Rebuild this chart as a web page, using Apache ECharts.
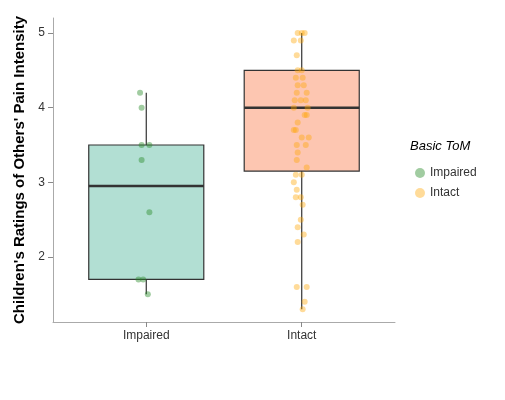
<!DOCTYPE html><html><head><meta charset="utf-8"><script src="https://cdn.jsdelivr.net/npm/echarts@6/dist/echarts.min.js"></script></head><body style="margin:0"><div id="c" style="width:505px;height:400px"></div><script>
const categories=['Impaired','Intact'];
const impairedPts=[[0.96,4.2],[0.97,4.0],[0.97,3.5],[1.02,3.5],[0.97,3.3],[1.02,2.6],[0.95,1.7],[0.98,1.7],[1.01,1.5]];
const intactPx=[[298,5],[302,5],[305,5],[294,4.9],[301,4.9],[297,4.7],[298,4.5],[302,4.5],[296,4.4],[303,4.4],[298,4.3],[304,4.3],[297,4.2],[307,4.2],[295,4.1],[301,4.1],[306,4.1],[294,4.0],[308,4.0],[305,3.9],[307,3.9],[298,3.8],[294,3.7],[296,3.7],[302,3.6],[309,3.6],[297,3.5],[306,3.5],[298,3.4],[297,3.3],[307,3.2],[296,3.1],[302,3.1],[294,3.0],[297,2.9],[296,2.8],[301,2.8],[303,2.7],[301,2.5],[298,2.4],[304,2.3],[298,2.2],[297,1.6],[307,1.6],[305,1.4],[303,1.3]];
const intactPts=intactPx.map(p=>[+(2+(p[0]-302)/156).toFixed(3),p[1]]);
// [pos, lowWhisker, q1, median, q3, highWhisker]
const boxes=[[1,1.5,1.7,2.95,3.5,4.2],[2,1.3,3.15,4.0,4.5,5.0]];
const boxFill=['#b2dfd3','#fdc6b1'];
const yTicks=[2,3,4,5];
const ch=echarts.init(document.getElementById('c'));
ch.setOption({
 animation:false,
 grid:{left:53,right:110,top:18,bottom:78},
 xAxis:{type:'value',min:0.4,max:2.6,splitLine:{show:false},
  axisLine:{lineStyle:{color:'#aaa'}},axisTick:{customValues:[1,2],lineStyle:{color:'#888'}},
  axisLabel:{customValues:[1,2],formatter:v=>categories[Math.round(v)-1],color:'#333',fontSize:12,fontFamily:'Liberation Sans'}},
 yAxis:{type:'value',min:1.13,max:5.2,splitLine:{show:false},
  axisLine:{show:true,lineStyle:{color:'#aaa'}},axisTick:{show:true,customValues:yTicks,lineStyle:{color:'#888'}},
  axisLabel:{customValues:yTicks,color:'#333',fontSize:12,fontFamily:'Liberation Sans'},
  name:"Children's Ratings of Others' Pain Intensity",nameLocation:'middle',nameGap:24,
  nameTextStyle:{fontWeight:'bold',fontSize:15,color:'#000',fontFamily:'Liberation Sans'}},
 legend:{orient:'vertical',left:410,top:162,itemWidth:10,itemHeight:10,itemGap:8,
  textStyle:{fontSize:12,color:'#333',fontFamily:'Liberation Sans'},data:['Impaired','Intact']},
 graphic:[{type:'text',left:410,top:140,style:{text:'Basic ToM',font:'italic 13px Liberation Sans',fill:'#000'}}],
 series:[
  {type:'custom',data:boxes,z:1,silent:true,renderItem:(p,api)=>{
    const x=api.value(0),hw=0.37;
    const c=v=>api.coord([x,v]);
    const l=api.coord([x-hw,api.value(4)]),r=api.coord([x+hw,api.value(2)]);
    const m1=api.coord([x-hw,api.value(3)]),m2=api.coord([x+hw,api.value(3)]);
    const st={stroke:'#333',lineWidth:1.2};
    return {type:'group',children:[
     {type:'line',shape:{x1:c(api.value(1))[0],y1:c(api.value(1))[1],x2:c(api.value(5))[0],y2:c(api.value(5))[1]},style:st},
     {type:'rect',shape:{x:l[0],y:l[1],width:r[0]-l[0],height:r[1]-l[1]},style:{fill:boxFill[p.dataIndex],stroke:'#333',lineWidth:1.2}},
     {type:'line',shape:{x1:m1[0],y1:m1[1],x2:m2[0],y2:m2[1]},style:{stroke:'#333',lineWidth:2.5}}]};
  }},
  {name:'Impaired',type:'scatter',data:impairedPts,symbolSize:6,z:3,itemStyle:{color:'rgba(40,140,40,0.55)'}},
  {name:'Intact',type:'scatter',data:intactPts,symbolSize:6,z:3,itemStyle:{color:'rgba(255,165,0,0.5)'}}
 ]});
</script></body></html>
